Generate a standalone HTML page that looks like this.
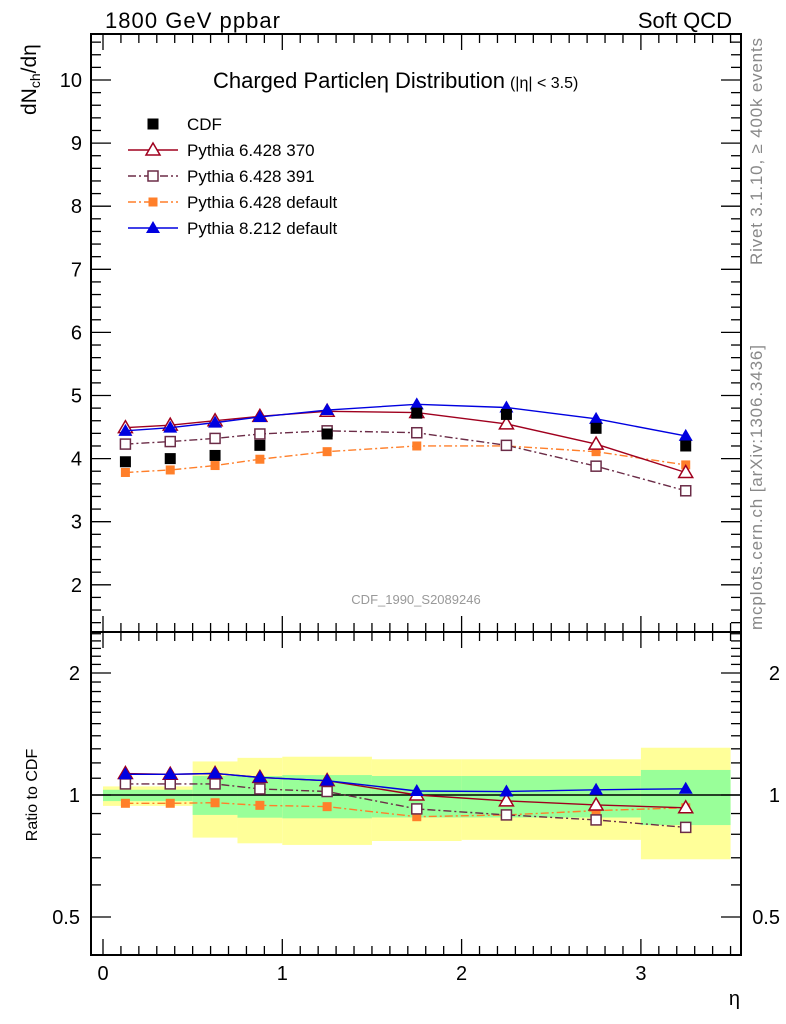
<!DOCTYPE html>
<html><head><meta charset="utf-8"><style>
body{margin:0;background:#fff;}
svg{display:block;font-family:"Liberation Sans",sans-serif;}
</style></head><body>
<svg id="c" width="786" height="1024" viewBox="0 0 786 1024" xmlns="http://www.w3.org/2000/svg">
<g id="bands"></g>
<g id="axes"></g>
<g id="series"></g>
<text x="105" y="28" font-size="22" textLength="175">1800 GeV ppbar</text>
<text x="732" y="28" font-size="22" text-anchor="end">Soft QCD</text>
<text x="213" y="88" font-size="22"><tspan textLength="292">Charged Particleη Distribution</tspan><tspan font-size="16" dx="5">(|η| &lt; 3.5)</tspan></text>
<text x="416" y="604" font-size="13" fill="#999" text-anchor="middle">CDF_1990_S2089246</text>
<text transform="translate(36,115) rotate(-90)" font-size="21" text-anchor="start">dN<tspan font-size="14" dy="4">ch</tspan><tspan dy="-4">/dη</tspan></text>
<text transform="translate(37,795) rotate(-90)" font-size="16" text-anchor="middle">Ratio to CDF</text>
<text x="740" y="1005" font-size="20" text-anchor="end">η</text>
<text transform="translate(762,265) rotate(-90)" font-size="17" fill="#888" textLength="227">Rivet 3.1.10, ≥ 400k events</text>
<text transform="translate(762,630) rotate(-90)" font-size="17" fill="#888" textLength="285">mcplots.cern.ch [arXiv:1306.3436]</text>
<g id="legend"></g>
</svg>
<script>
const etaPts=[0.125,0.375,0.625,0.875,1.25,1.75,2.25,2.75,3.25];
const cdf=[3.95,4.0,4.05,4.21,4.39,4.72,4.70,4.48,4.20];
const p370=[4.49,4.53,4.60,4.67,4.75,4.73,4.55,4.23,3.78];
const p391=[4.23,4.27,4.32,4.39,4.44,4.41,4.21,3.88,3.49];
const p6def=[3.78,3.82,3.89,3.99,4.11,4.20,4.20,4.11,3.90];
const p8=[4.44,4.49,4.57,4.66,4.77,4.86,4.81,4.63,4.36];
const r370=[1.13,1.125,1.13,1.105,1.085,1.0,0.967,0.945,0.93];
const r391=[1.065,1.065,1.065,1.035,1.02,0.924,0.893,0.868,0.832];
const r6def=[0.954,0.954,0.957,0.943,0.936,0.884,0.893,0.915,0.93];
const r8=[1.125,1.125,1.13,1.105,1.085,1.023,1.02,1.03,1.036];
const binLo=[0,0.5,0.75,1.0,1.5,2.0,3.0];
const binHi=[0.5,0.75,1.0,1.5,2.0,3.0,3.5];
const yelHi=[1.05,1.21,1.235,1.243,1.225,1.225,1.308];
const yelLo=[0.94,0.785,0.76,0.753,0.77,0.775,0.694];
const grnHi=[1.03,1.114,1.114,1.12,1.114,1.114,1.153];
const grnLo=[0.966,0.893,0.879,0.876,0.88,0.88,0.843];
const yTicks=[2,3,4,5,6,7,8,9,10];
const rTicks=[0.5,1,2];
const xTicks=[0,1,2,3];

const NS="http://www.w3.org/2000/svg";
const L=91,R=741,T=34,M=632,B=955;
const X=v=>103+v*179.3;
const Y=v=>80+(10-v)*63.1;
const RY=r=>795-Math.log2(r)*122;
function mk(parent,tag,attrs){const e=document.createElementNS(NS,tag);for(const k in attrs)e.setAttribute(k,attrs[k]);document.getElementById(parent).appendChild(e);return e;}

for(let i=0;i<binLo.length;i++){
  let e=mk('bands','rect',{x:X(binLo[i]),y:RY(yelHi[i]),width:X(binHi[i])-X(binLo[i]),height:RY(yelLo[i])-RY(yelHi[i]),fill:'#ffff99'});
  
  
  e=mk('bands','rect',{x:X(binLo[i]),y:RY(grnHi[i]),width:X(binHi[i])-X(binLo[i]),height:RY(grnLo[i])-RY(grnHi[i]),fill:'#99ff99'});
  
  
}
for(const [y0,y1] of [[T,M],[M,B]]){
  const e=mk('axes','rect',{x:L,y:y0,width:R-L,height:y1-y0,fill:'none',stroke:'#000','stroke-width':2});
  
  
}
let ln=mk('axes','line',{x1:L,x2:R,y1:RY(1),y2:RY(1),stroke:'#000','stroke-width':1.5});


function tick(x1,y1,x2,y2){const e=mk('axes','line',{x1,y1,x2,y2,stroke:'#000','stroke-width':1.3});}
for(let k=0;k<=35;k++){const v=k/10,x=X(v),len=(k%10==0)?16:9;
  for(const [y,d] of [[T,1],[M,-1],[M,1],[B,-1]]) tick(x,y,x,y+d*len);}
for(const v of xTicks){const t=mk('axes','text',{x:X(v),y:980,'font-size':20,'text-anchor':'middle'});t.textContent=v;}
for(let k=7;k<=53;k++){const v=k/5,y=Y(v);if(y<T||y>M)continue;const len=(k%5==0)?20:10;tick(L,y,L+len,y);tick(R,y,R-len,y);}
for(const v of yTicks){const t=mk('axes','text',{x:82,y:Y(v)+7,'font-size':20,'text-anchor':'end'});t.textContent=v;}
for(let k=4;k<=25;k++){const v=k/10,y=RY(v);if(y<M||y>B)continue;const maj=(v==0.5||v==1||v==2);const len=maj?20:10;tick(L,y,L+len,y);tick(R,y,R-len,y);}
for(const v of rTicks){let t=mk('axes','text',{x:80,y:RY(v)+7,'font-size':20,'text-anchor':'end'});t.textContent=v;
  t=mk('axes','text',{x:780,y:RY(v)+7,'font-size':20,'text-anchor':'end'});t.textContent=v;}

function marker(g,type,color,x,y,name){
  let e;
  if(type=='sq') e=mk(g,'rect',{x:x-5.5,y:y-5.5,width:11,height:11,fill:color});
  else if(type=='osq') e=mk(g,'rect',{x:x-5,y:y-5,width:10,height:10,fill:'#fff',stroke:color,'stroke-width':1.5});
  else if(type=='ssq') e=mk(g,'rect',{x:x-4.5,y:y-4.5,width:9,height:9,fill:color});
  else if(type=='otri') e=mk(g,'path',{d:`M${x},${y-7}L${x+7},${y+5}L${x-7},${y+5}Z`,fill:'#fff',stroke:color,'stroke-width':1.5});
  else e=mk(g,'path',{d:`M${x},${y-7}L${x+7},${y+5}L${x-7},${y+5}Z`,fill:color});
  
  
}
function series(vals,fy,color,dash,mtype,name){
  if(color){const pts=vals.map((v,i)=>X(etaPts[i])+','+fy(v)).join(' ');
    const e=mk('series','polyline',{points:pts,fill:'none',stroke:color,'stroke-width':1.4,'stroke-dasharray':dash||'none'});
    
    }
  vals.forEach((v,i)=>marker('series',mtype,color||'#000',X(etaPts[i]),fy(v),name+'-point'));
}
const sets=[
 ['p6def',p6def,r6def,'#ff7f2a','8,3,2,3','ssq'],
 ['p391',p391,r391,'#6b2c47','8,3,2,3','osq'],
 ['p370',p370,r370,'#a0001e','','otri'],
 ['p8',p8,r8,'#0000e0','','tri']];
for(const s of sets){series(s[1],Y,s[3],s[4],s[5],s[0]);series(s[2],RY,s[3],s[4],s[5],s[0]+'-ratio');}
series(cdf,Y,null,null,'sq','cdf');

const leg=[['CDF',null,'','sq','#000'],['Pythia 6.428 370','#a0001e','','otri'],['Pythia 6.428 391','#6b2c47','8,3,2,3','osq'],['Pythia 6.428 default','#ff7f2a','8,3,2,3','ssq'],['Pythia 8.212 default','#0000e0','','tri']];
leg.forEach((l,i)=>{const y=124+i*26;
  if(l[1]){const e=mk('legend','line',{x1:128,x2:178,y1:y,y2:y,stroke:l[1],'stroke-width':1.4,'stroke-dasharray':l[2]||'none'});}
  marker('legend',l[3],l[1]||'#000',153,y,'legend-marker');
  const t=mk('legend','text',{x:187,y:y+6,'font-size':17});t.textContent=l[0];
  
  
});
</script>
</body></html>
